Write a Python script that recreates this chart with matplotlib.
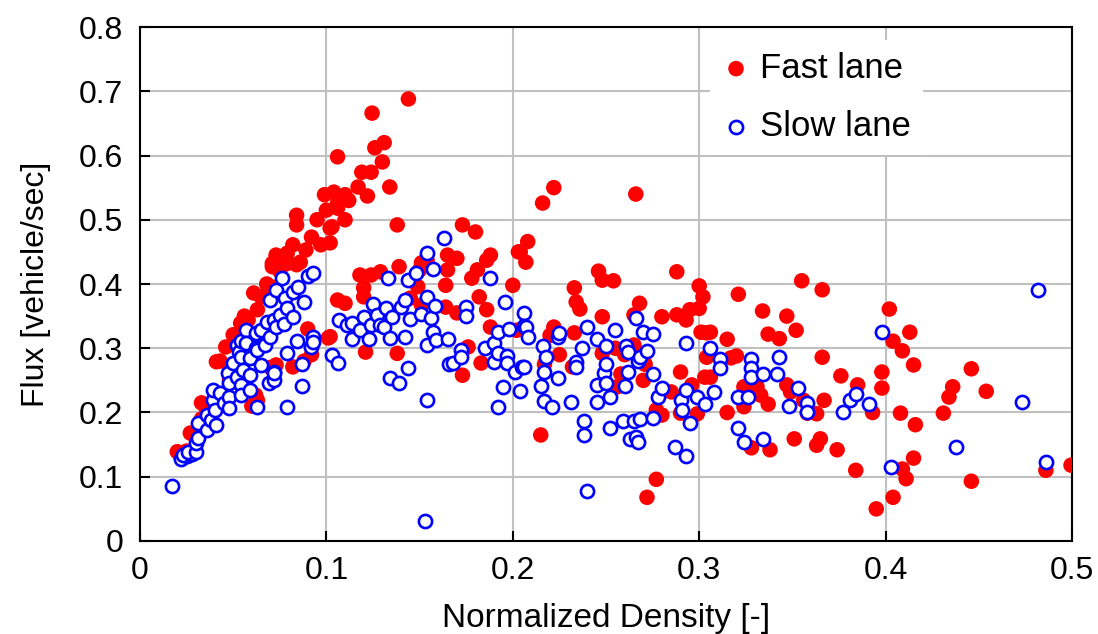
import matplotlib
matplotlib.use("Agg")
import matplotlib.pyplot as plt

# Fast lane (red, filled)
fast_x = [0.020, 0.022, 0.025, 0.027, 0.030, 0.033, 0.033, 0.035, 0.040, 0.041, 0.043, 0.046,
          0.048, 0.050, 0.052, 0.054, 0.056, 0.058, 0.060, 0.061, 0.063, 0.063, 0.065, 0.068,
          0.070, 0.070, 0.071, 0.071, 0.073, 0.073, 0.075, 0.079, 0.079, 0.082, 0.082, 0.084,
          0.084, 0.084, 0.086, 0.088, 0.089, 0.090, 0.092, 0.095, 0.097, 0.099, 0.100, 0.101,
          0.102, 0.102, 0.103, 0.104, 0.106, 0.106, 0.106, 0.106, 0.110, 0.110, 0.112, 0.117,
          0.119, 0.122, 0.124, 0.1245, 0.126, 0.130, 0.131, 0.134, 0.138, 0.144,
          0.102, 0.110, 0.118, 0.120, 0.120, 0.121, 0.124, 0.129, 0.138, 0.139, 0.145, 0.149,
          0.150, 0.151, 0.151, 0.154, 0.164, 0.164, 0.165, 0.165, 0.170, 0.170, 0.173, 0.173,
          0.176, 0.178, 0.180, 0.181, 0.182, 0.183, 0.186, 0.186, 0.188, 0.188, 0.200, 0.202,
          0.203, 0.204, 0.207, 0.208, 0.215, 0.216, 0.217, 0.222, 0.222, 0.232, 0.233, 0.233,
          0.234, 0.236, 0.246, 0.248, 0.248, 0.248, 0.254, 0.256, 0.265, 0.265, 0.266, 0.268,
          0.271, 0.272, 0.277, 0.277, 0.280, 0.280, 0.285, 0.288, 0.288, 0.290, 0.290, 0.293,
          0.295, 0.296, 0.299, 0.300, 0.300, 0.301, 0.302, 0.303, 0.304, 0.304, 0.306, 0.306,
          0.315, 0.315, 0.317, 0.320, 0.321, 0.324, 0.324, 0.328, 0.331, 0.333, 0.334, 0.337,
          0.337, 0.338, 0.343, 0.347, 0.347, 0.349, 0.351, 0.352, 0.355, 0.356, 0.358, 0.363,
          0.363, 0.365, 0.366, 0.366, 0.367, 0.374, 0.376, 0.384, 0.385, 0.393, 0.395, 0.398,
          0.398, 0.402, 0.413, 0.404, 0.409, 0.415, 0.446, 0.436, 0.434, 0.454, 0.408, 0.431,
          0.416, 0.415, 0.409, 0.411, 0.446, 0.404, 0.486, 0.4995,
          0.220, 0.225, 0.255, 0.260, 0.270, 0.258, 0.062, 0.092]
fast_y = [0.139, 0.130, 0.140, 0.168, 0.160, 0.190, 0.215, 0.210, 0.220, 0.279, 0.280, 0.302,
          0.250, 0.321, 0.270, 0.339, 0.350, 0.344, 0.210, 0.386, 0.360, 0.219, 0.380, 0.400,
          0.396, 0.270, 0.427, 0.432, 0.445, 0.274, 0.420, 0.432, 0.448, 0.461, 0.271, 0.430,
          0.492, 0.507, 0.434, 0.280, 0.453, 0.330, 0.473, 0.500, 0.461, 0.539, 0.515, 0.316,
          0.464, 0.487, 0.489, 0.543, 0.526, 0.518, 0.598, 0.375, 0.500, 0.539, 0.530, 0.551,
          0.574, 0.537, 0.574, 0.666, 0.612, 0.590, 0.620, 0.551, 0.492, 0.688,
          0.318, 0.370, 0.414, 0.394, 0.380, 0.294, 0.414, 0.419, 0.292, 0.427, 0.378, 0.396,
          0.422, 0.433, 0.367, 0.437, 0.398, 0.364, 0.445, 0.422, 0.440, 0.355, 0.492, 0.258,
          0.302, 0.409, 0.481, 0.422, 0.380, 0.277, 0.437, 0.360, 0.445, 0.333, 0.398, 0.328,
          0.450, 0.450, 0.434, 0.466, 0.165, 0.526, 0.275, 0.550, 0.333, 0.271, 0.394, 0.324,
          0.372, 0.361, 0.420, 0.406, 0.349, 0.292, 0.405, 0.240, 0.352, 0.305, 0.540, 0.370,
          0.275, 0.068, 0.096, 0.204, 0.349, 0.196, 0.232, 0.419, 0.352, 0.263, 0.199, 0.344,
          0.360, 0.243, 0.198, 0.397, 0.362, 0.325, 0.380, 0.255, 0.324, 0.286, 0.325, 0.255,
          0.314, 0.200, 0.285, 0.288, 0.384, 0.240, 0.209, 0.145, 0.240, 0.227, 0.358, 0.322,
          0.213, 0.142, 0.315, 0.350, 0.243, 0.232, 0.159, 0.328, 0.405, 0.219, 0.199, 0.198,
          0.149, 0.159, 0.391, 0.286, 0.219, 0.142, 0.257, 0.110, 0.243, 0.200, 0.050, 0.263,
          0.238, 0.361, 0.325, 0.311, 0.296, 0.274, 0.268, 0.240, 0.224, 0.233, 0.199, 0.199,
          0.181, 0.129, 0.112, 0.097, 0.093, 0.068, 0.110, 0.118,
          0.320, 0.290, 0.300, 0.290, 0.250, 0.260, 0.227, 0.290]

# Slow lane (blue, open)
slow_x = [0.017, 0.022, 0.025, 0.028, 0.023, 0.026, 0.030, 0.030, 0.031, 0.031, 0.036, 0.036,
          0.038, 0.039, 0.039, 0.040, 0.041, 0.043, 0.045, 0.047, 0.048, 0.048, 0.048, 0.050,
          0.052, 0.052, 0.053, 0.054, 0.054, 0.054, 0.054, 0.055, 0.057, 0.057, 0.059, 0.059,
          0.059, 0.062, 0.062, 0.063, 0.063, 0.065, 0.065, 0.067, 0.068, 0.069, 0.070, 0.070,
          0.072, 0.072, 0.072, 0.072, 0.073, 0.073, 0.075, 0.076, 0.077, 0.078, 0.079, 0.079,
          0.079, 0.082, 0.082, 0.084, 0.085, 0.087, 0.087, 0.088, 0.090, 0.092, 0.093, 0.093,
          0.093,
          0.103, 0.106, 0.107, 0.111, 0.114, 0.114, 0.118, 0.120, 0.123, 0.124, 0.125, 0.127,
          0.129, 0.131, 0.132, 0.133, 0.134, 0.134, 0.135, 0.139, 0.140, 0.142, 0.142, 0.144,
          0.144, 0.145, 0.148, 0.151, 0.153, 0.154, 0.154, 0.154, 0.154, 0.156, 0.157, 0.157,
          0.158, 0.159, 0.163, 0.165, 0.166, 0.168, 0.172, 0.172, 0.175, 0.175, 0.185, 0.188,
          0.190, 0.190, 0.192, 0.192, 0.192, 0.195, 0.196, 0.197, 0.197, 0.198, 0.201, 0.204,
          0.205, 0.206, 0.206, 0.206, 0.207, 0.208, 0.215, 0.216, 0.217, 0.217, 0.218, 0.221,
          0.224, 0.224, 0.225, 0.231, 0.234, 0.234, 0.237, 0.238, 0.238, 0.240, 0.240, 0.245,
          0.245, 0.245, 0.249, 0.250, 0.250, 0.250, 0.252, 0.252, 0.255, 0.259, 0.260, 0.261,
          0.262, 0.262, 0.263, 0.265, 0.266, 0.266, 0.267, 0.267, 0.268, 0.268, 0.270, 0.272,
          0.275, 0.275, 0.275, 0.278, 0.280, 0.287, 0.290, 0.291, 0.293, 0.293, 0.293, 0.295,
          0.299, 0.303, 0.306, 0.308, 0.311, 0.311, 0.321, 0.321, 0.324, 0.326, 0.328, 0.328,
          0.328, 0.334, 0.334, 0.342, 0.343, 0.348, 0.353, 0.358, 0.358, 0.377, 0.381, 0.384,
          0.391, 0.398, 0.403, 0.438, 0.473, 0.482, 0.486]
slow_y = [0.085, 0.128, 0.132, 0.136, 0.134, 0.139, 0.139, 0.152, 0.160, 0.184, 0.173, 0.196,
          0.188, 0.219, 0.235, 0.204, 0.181, 0.230, 0.215, 0.261, 0.224, 0.246, 0.207, 0.277,
          0.255, 0.305, 0.294, 0.311, 0.287, 0.243, 0.227, 0.266, 0.328, 0.308, 0.285, 0.258,
          0.235, 0.324, 0.300, 0.297, 0.209, 0.328, 0.274, 0.305, 0.341, 0.246, 0.375, 0.318,
          0.344, 0.263, 0.250, 0.261, 0.390, 0.333, 0.352, 0.409, 0.337, 0.378, 0.363, 0.292,
          0.209, 0.388, 0.349, 0.311, 0.396, 0.276, 0.241, 0.372, 0.412, 0.302, 0.417, 0.318,
          0.310,
          0.290, 0.277, 0.344, 0.336, 0.339, 0.314, 0.328, 0.349, 0.314, 0.336, 0.369, 0.352,
          0.336, 0.333, 0.362, 0.409, 0.316, 0.254, 0.349, 0.246, 0.364, 0.375, 0.318, 0.406,
          0.269, 0.346, 0.417, 0.353, 0.031, 0.448, 0.380, 0.305, 0.220, 0.347, 0.423, 0.325,
          0.366, 0.313, 0.471, 0.314, 0.275, 0.277, 0.297, 0.287, 0.364, 0.350, 0.300, 0.409,
          0.308, 0.279, 0.325, 0.292, 0.209, 0.240, 0.372, 0.288, 0.277, 0.330, 0.263, 0.234,
          0.271, 0.355, 0.334, 0.271, 0.333, 0.317, 0.241, 0.304, 0.263, 0.218, 0.287, 0.209,
          0.318, 0.253, 0.324, 0.217, 0.279, 0.271, 0.300, 0.187, 0.165, 0.333, 0.078, 0.314,
          0.243, 0.217, 0.262, 0.304, 0.275, 0.246, 0.224, 0.176, 0.328, 0.187, 0.241, 0.304,
          0.294, 0.263, 0.159, 0.187, 0.347, 0.162, 0.280, 0.154, 0.287, 0.190, 0.325, 0.296,
          0.322, 0.260, 0.191, 0.224, 0.238, 0.146, 0.219, 0.204, 0.308, 0.235, 0.132, 0.184,
          0.224, 0.213, 0.300, 0.232, 0.283, 0.269, 0.224, 0.176, 0.154, 0.224, 0.283, 0.269,
          0.255, 0.260, 0.159, 0.260, 0.286, 0.210, 0.238, 0.215, 0.201, 0.200, 0.219, 0.229,
          0.213, 0.325, 0.115, 0.146, 0.216, 0.391, 0.123]

x_ticks = [0, 0.1, 0.2, 0.3, 0.4, 0.5]
x_labels = ["0", "0.1", "0.2", "0.3", "0.4", "0.5"]
y_ticks = [0, 0.1, 0.2, 0.3, 0.4, 0.5, 0.6, 0.7, 0.8]
y_labels = ["0", "0.1", "0.2", "0.3", "0.4", "0.5", "0.6", "0.7", "0.8"]

plt.rcParams['font.family'] = ['Liberation Sans', 'DejaVu Sans']

fig = plt.figure(figsize=(10.98, 6.34), dpi=100)
ax = fig.add_axes([0.1275, 0.1467, 0.8488, 0.8107])

ax.scatter(fast_x, fast_y, s=125, c='#ff0000', edgecolors='none', label='Fast lane', zorder=3)
ax.scatter(slow_x, slow_y, s=90, facecolors='white', edgecolors='#0000ff', linewidths=1.9,
           label='Slow lane', zorder=4)

ax.set_xlim(0, 0.5)
ax.set_ylim(0, 0.8)
ax.set_xticks(x_ticks)
ax.set_xticklabels(x_labels)
ax.set_yticks(y_ticks)
ax.set_yticklabels(y_labels)
ax.tick_params(direction='in', length=7, width=1.5, labelsize=23)
ax.tick_params(axis='y', pad=12)
ax.tick_params(axis='x', pad=11)
ax.grid(True, color='#c0c0c0', linewidth=1.5, zorder=0)
ax.set_axisbelow(True)
for sp in ax.spines.values():
    sp.set_linewidth(1.5)

ax.set_xlabel('Normalized Density [-]', fontsize=24, labelpad=12)
ax.set_ylabel('Flux [vehicle/sec]', fontsize=23, labelpad=20)

leg = ax.legend(loc='upper left', bbox_to_anchor=(0.6116, 0.9755), fontsize=25, frameon=True,
                fancybox=False, edgecolor='none', framealpha=1, handletextpad=0.3,
                borderpad=0.35, borderaxespad=0, labelspacing=0.73, handlelength=0.8)

plt.savefig('out.png', dpi=100)
plt.close()
